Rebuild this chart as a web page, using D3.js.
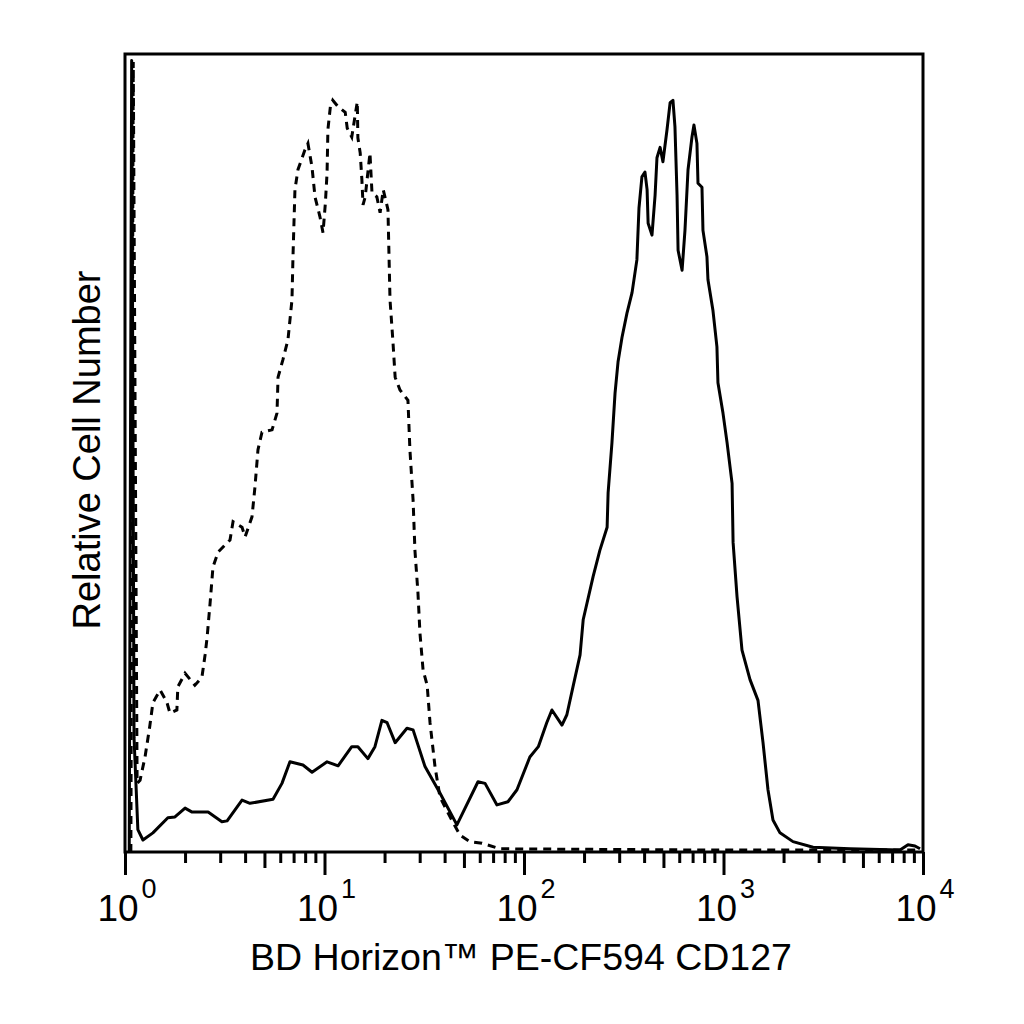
<!DOCTYPE html>
<html><head><meta charset="utf-8">
<script src="https://cdn.jsdelivr.net/npm/d3@7"></script>
<style>body{margin:0;background:#fff} svg{display:block}</style>
</head><body>
<script>
// ---- data ----
const tickExponents = [0, 1, 2, 3, 4];
const xTitle = "BD Horizon™ PE-CF594 CD127";
const yTitle = "Relative Cell Number";

// solid histogram: fluorescence value / relative count
const solidX = [1.05,1.08,1.11,1.16,1.23,1.38,1.64,1.78,2.00,2.17,2.61,3.06,3.25,3.86,4.23,5.52,6.12,6.71,7.80,8.66,10.3,11.7,13.7,14.7,16.5,17.9,19.4,20.6,22.6,25.9,27.8,31.9,37.9,46.1,58.8,63.8,73.2,83.1,92.2,107,118,130,138,155,164,176,191,198,222,240,261,264,276,286,296,310,328,348,368,377,390,404,414,419,438,454,464,481,497,521,540,558,571,585,592,620,641,664,695,711,736,745,780,789,826,836,885,927,938,994,1042,1104,1117,1169,1238,1358,1489,1578,1671,1770,1919,2230,2812,4305,7670,8410,9120,9660];
const solidY = [0,99.2,14.3,2.8,1.5,2.4,4.3,4.4,5.5,5.0,5.0,3.8,3.9,6.5,6.1,6.6,8.6,11.3,10.9,10.0,11.3,10.8,13.2,13.2,11.7,13.2,16.5,16.2,13.7,15.5,15.3,10.7,7.4,3.4,8.8,8.6,5.9,6.3,7.8,11.9,13.2,16.2,17.8,15.9,17.2,20.7,24.7,29.1,34.5,37.8,40.7,45.0,51.3,57.5,61.4,64.5,67.5,70.1,74.2,80.7,84.6,85.2,83.0,78.8,77.3,82.3,87.0,88.3,86.5,90.5,93.9,94.2,90.9,82.3,75.4,72.9,77.9,85.5,89.6,91.1,88.8,83.8,83.3,77.9,74.6,71.7,67.9,63.3,58.8,55.0,51.3,46.2,38.8,32.0,25.3,21.6,19.0,13.7,7.8,4.0,2.4,1.3,0.6,0.4,0.25,0.9,0.75,0.4];

// dashed histogram (control)
const dashedX = [1.07,1.10,1.15,1.19,1.26,1.33,1.38,1.50,1.62,1.68,1.82,1.84,2.00,2.24,2.43,2.52,2.58,2.67,2.76,2.93,3.36,3.48,3.86,4.00,4.33,4.48,4.64,4.86,5.46,5.78,5.85,6.19,6.56,6.87,6.95,7.11,7.36,7.98,8.26,8.66,8.96,9.49,9.83,10.1,10.3,10.4,10.7,11.0,11.7,12.7,13.0,13.7,14.2,14.6,14.7,15.1,15.4,15.6,16.0,16.9,17.3,18.3,19.0,19.7,20.8,21.3,22.0,22.6,23.9,26.2,26.8,27.8,28.4,29.4,30.1,31.2,32.7,33.8,35.8,37.9,42.6,47.8,53.6,61.6,75.8,762,2812,9700];
const dashedY = [0,99.0,8.6,9.0,11.9,15.7,18.7,20.3,18.8,17.4,17.8,20.7,22.4,20.9,21.9,24.7,26.9,31.2,35.7,37.6,39.1,41.4,40.7,39.5,42.0,45.7,50.4,52.6,52.9,55.0,59.5,61.7,64.2,69.2,74.6,83.0,85.5,88.0,88.8,85.8,82.1,79.6,77.6,81.3,85.1,90.5,93.4,94.2,93.4,92.7,90.7,89.6,92.1,94.0,89.5,87.6,84.2,81.1,82.1,87.6,82.6,82.1,80.1,83.0,80.5,69.2,64.2,59.5,57.9,56.6,50.4,44.1,37.8,32.5,27.4,22.8,20.9,16.2,10.7,6.9,4.4,2.1,1.3,1.1,0.4,0.25,0.25,0.25];

// ---- drawing ----
const W = 1024, H = 1024;
const L = 125, R = 923, T = 54, B = 852;
const FONT = "'Liberation Sans', Arial, Helvetica, sans-serif";

const svg = d3.select("body").append("svg").attr("width", W).attr("height", H);
svg.append("rect").attr("width", W).attr("height", H).attr("fill", "#fff");

const x = d3.scaleLog().domain([1, 10000]).range([L, R]);
const y = d3.scaleLinear().domain([0, 100]).range([B, T]);

svg.append("defs").append("clipPath").attr("id", "clip")
  .append("rect").attr("x", L).attr("y", T).attr("width", R - L).attr("height", B - T);

const line = d3.line().x(d => x(d[0])).y(d => y(d[1]));
const solid = solidX.map((v, i) => [v, solidY[i]]);
const dashed = dashedX.map((v, i) => [v, dashedY[i]]);

const g = svg.append("g").attr("clip-path", "url(#clip)");
g.append("path").datum(dashed).attr("d", line).attr("fill", "none")
  .attr("stroke", "#000").attr("stroke-width", 3).attr("stroke-dasharray", "8,6");
g.append("path").datum(solid).attr("d", line).attr("fill", "none")
  .attr("stroke", "#000").attr("stroke-width", 3).attr("stroke-linejoin", "round");

// ticks
const majors = tickExponents.map(e => Math.pow(10, e));
const minors = [], mids = [];
for (let e = 0; e < 4; e++) for (let m = 2; m <= 9; m++) {
  (m === 5 ? mids : minors).push(m * Math.pow(10, e));
}
function tickAxis(vals, size) {
  const a = svg.append("g").attr("transform", `translate(0,${B})`)
    .call(d3.axisBottom(x).tickValues(vals).tickSize(size).tickFormat(""));
  a.select(".domain").remove();
  a.selectAll("line").attr("stroke", "#000").attr("stroke-width", 3);
}
tickAxis(minors, 11);
tickAxis(mids, 16);
tickAxis(majors, 23);

// frame
svg.append("rect").attr("x", L).attr("y", T).attr("width", R - L).attr("height", B - T)
  .attr("fill", "none").attr("stroke", "#000").attr("stroke-width", 3);

// tick labels
tickExponents.forEach(e => {
  const t = svg.append("text").attr("x", x(Math.pow(10, e)) + 2).attr("y", 921)
    .attr("text-anchor", "middle").attr("font-family", FONT).attr("font-size", 37).attr("fill", "#000");
  t.append("tspan").text("10");
  t.append("tspan").attr("dx", 3).attr("dy", -23).attr("font-size", 27).text(String(e));
});

// axis titles
svg.append("text").attr("x", 521).attr("y", 970).attr("text-anchor", "middle")
  .attr("font-family", FONT).attr("font-size", 37.5).attr("fill", "#000").text(xTitle);
svg.append("text").attr("transform", "translate(100,450) rotate(-90)").attr("text-anchor", "middle")
  .attr("font-family", FONT).attr("font-size", 38).attr("fill", "#000").text(yTitle);
</script>
</body></html>
